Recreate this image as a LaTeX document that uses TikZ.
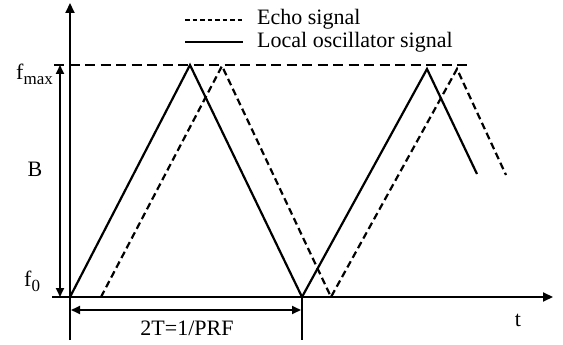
\documentclass[tikz,border=0pt]{standalone}
\usepackage{fontspec}
\setmainfont{Liberation Serif}
\usetikzlibrary{arrows.meta}
\begin{document}
\begin{tikzpicture}[x=1pt,y=-1pt,
  ax/.style={line width=2.1pt,-{Triangle[length=10pt,width=9pt]}},
  dax/.style={line width=2pt,{Triangle[length=9pt,width=8pt]}-{Triangle[length=9pt,width=8pt]}},
  lo/.style={line width=2.2pt},
  echo/.style={line width=2.2pt,dash pattern=on 7pt off 4pt},
  fline/.style={line width=1.9pt,dash pattern=on 10pt off 5.5pt},
  lbl/.style={font=\fontsize{22}{25}\selectfont,inner sep=0pt}]
\useasboundingbox (0,0) rectangle (563,345);
% axes
\coordinate (ybot) at (70,340);
\coordinate (ytop) at (70,3);
\coordinate (xl) at (52,297);
\coordinate (xr) at (553,297);
\draw[ax] (ybot) -- (ytop);
\draw[ax] (xl) -- (xr);
\coordinate (mbot) at (302,340);
\coordinate (mtop) at (302,297);
\draw[lo] (mtop) -- (mbot);
% fmax line
\coordinate (fl) at (54,65);
\coordinate (fr) at (468,65);
\draw[fline] (fl) -- (fr);
% B arrow
\coordinate (bt) at (60,65);
\coordinate (bb) at (60,297);
\draw[dax] (bt) -- (bb);
% 2T arrow
\coordinate (tl) at (71,310);
\coordinate (tr) at (301,310);
\draw[dax] (tl) -- (tr);
% local oscillator
\coordinate (l0) at (70,297);
\coordinate (l1) at (190,65);
\coordinate (l2) at (302,297);
\coordinate (l3) at (427,69);
\coordinate (l4) at (477,174);
\draw[lo,line join=miter] (l0) -- (l1) -- (l2) -- (l3) -- (l4);
% echo
\coordinate (e0) at (101,297);
\coordinate (e1) at (222,66);
\coordinate (e2) at (331,297);
\coordinate (e3) at (457,69);
\coordinate (e4) at (506,175);
\draw[echo] (e0) -- (e1) -- (e2) -- (e3) -- (e4);
% legend
\coordinate (g1a) at (185,20);
\coordinate (g1b) at (243,20);
\coordinate (g2a) at (185,42);
\coordinate (g2b) at (243,42);
\draw[line width=1.8pt,dash pattern=on 4.5pt off 3pt] (g1a) -- (g1b);
\draw[lo] (g2a) -- (g2b);
\node[lbl,anchor=west] (echoT) at (257,19) {Echo signal};
\node[lbl,anchor=west] (loT) at (257,42) {Local oscillator signal};
% labels
\node[lbl,anchor=base west] (fmax) at (16,80) {f\raisebox{-5pt}{\fontsize{17}{19}\selectfont max}};
\node[lbl,anchor=base west] (f0) at (24,286) {f\raisebox{-5pt}{\fontsize{17}{19}\selectfont 0}};
\node[lbl] (B) at (35,169) {B};
\node[lbl] (t) at (518,320) {t};
\node[lbl] (prf) at (187,328) {2T=1/PRF};
\end{tikzpicture}
\end{document}
